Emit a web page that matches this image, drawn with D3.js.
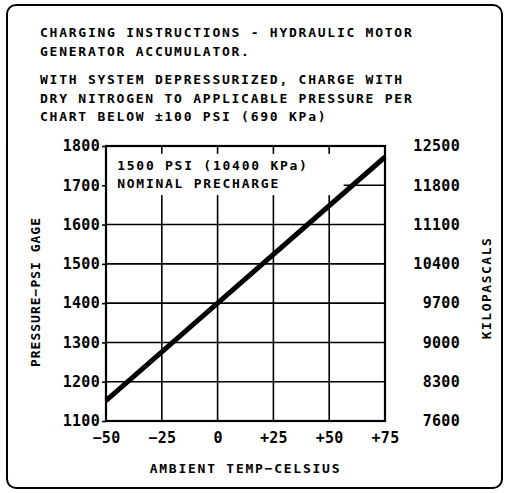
<!DOCTYPE html>
<html>
<head>
<meta charset="utf-8">
<script src="https://cdn.jsdelivr.net/npm/d3@7"></script>
<style>
    body { margin: 0; background: #fff; }
    svg text { font-family: "DejaVu Sans Mono", monospace; font-weight: bold; fill: #000; }
</style>
</head>
<body>
<div id="chart"></div>
<script>
const titleLines = [
    "CHARGING INSTRUCTIONS - HYDRAULIC MOTOR",
    "GENERATOR ACCUMULATOR.",
    "WITH SYSTEM DEPRESSURIZED, CHARGE WITH",
    "DRY NITROGEN TO APPLICABLE PRESSURE PER",
    "CHART BELOW ±100 PSI (690 KPa)"
];
const noteLines = ["1500 PSI (10400 KPa)", "NOMINAL PRECHARGE"];
const tempTicks = [-50, -25, 0, 25, 50, 75];
const tempLabels = ["−50", "−25", "0", "+25", "+50", "+75"];
const psiTicks = [1100, 1200, 1300, 1400, 1500, 1600, 1700, 1800];
const kpaTicks = [7600, 8300, 9000, 9700, 10400, 11100, 11800, 12500];
const lineTemp = [-50, 0, 75];
const linePsi = [1152, 1400, 1772];

const W = 507, H = 493;
const margin = { top: 146, right: 122, bottom: 72, left: 106 };

const svg = d3.select("#chart").append("svg")
    .attr("width", W)
    .attr("height", H);

// outer rounded frame
svg.append("rect")
    .attr("x", 7).attr("y", 5)
    .attr("width", 495).attr("height", 483)
    .attr("rx", 9)
    .style("fill", "none")
    .style("stroke", "#000")
    .style("stroke-width", 2);

// title block
const titleY = [37, 56, 84, 103, 121];
svg.selectAll(".title")
    .data(titleLines)
    .enter().append("text")
    .attr("class", "title")
    .attr("x", 40)
    .attr("y", (d, i) => titleY[i])
    .style("font-size", "13px")
    .style("letter-spacing", "1.75px")
    .text(d => d);

const x = d3.scaleLinear().domain([-50, 75]).range([margin.left, W - margin.right]);
const y = d3.scaleLinear().domain([1100, 1800]).range([H - margin.bottom, margin.top]);
const yKpa = d3.scaleLinear().domain([7600, 12500]).range(y.range());

// grid
svg.append("g")
    .selectAll("line")
    .data(tempTicks.slice(1, -1))
    .enter().append("line")
    .attr("x1", d => x(d)).attr("x2", d => x(d))
    .attr("y1", y(1800)).attr("y2", y(1100))
    .style("stroke", "#000")
    .style("stroke-width", 1.6);

svg.append("g")
    .selectAll("line")
    .data(psiTicks.slice(1, -1))
    .enter().append("line")
    .attr("x1", x(-50)).attr("x2", x(75))
    .attr("y1", d => y(d)).attr("y2", d => y(d))
    .style("stroke", "#000")
    .style("stroke-width", 1.6);

// white box behind the note
svg.append("rect")
    .attr("x", x(-50) + 1)
    .attr("y", y(1780))
    .attr("width", x(56) - x(-50))
    .attr("height", y(1675) - y(1780))
    .style("fill", "#fff");

svg.selectAll(".note")
    .data(noteLines)
    .enter().append("text")
    .attr("class", "note")
    .attr("x", x(-45))
    .attr("y", (d, i) => y(1738) + i * 18)
    .style("font-size", "13px")
    .style("letter-spacing", "1.75px")
    .text(d => d);

// plot frame
svg.append("rect")
    .attr("x", x(-50)).attr("y", y(1800))
    .attr("width", x(75) - x(-50))
    .attr("height", y(1100) - y(1800))
    .style("fill", "none")
    .style("stroke", "#000")
    .style("stroke-width", 2.2);

// pressure line
const line = d3.line()
    .x((d, i) => x(lineTemp[i]))
    .y(d => y(d));

svg.append("path")
    .datum(linePsi)
    .attr("d", line)
    .style("fill", "none")
    .style("stroke", "#000")
    .style("stroke-width", 5);

// axes
const tickFont = g => g.selectAll("text")
    .style("font-size", "15px")
    .style("letter-spacing", "0.3px");

const xAxis = svg.append("g")
    .attr("transform", `translate(0,${y(1100)})`)
    .call(d3.axisBottom(x).tickValues(tempTicks)
        .tickFormat((d, i) => tempLabels[i]).tickSize(0).tickPadding(11));
xAxis.call(tickFont);

const yAxis = svg.append("g")
    .attr("transform", `translate(${x(-50)},0)`)
    .call(d3.axisLeft(y).tickValues(psiTicks).tickFormat(d3.format("d"))
        .tickSize(4).tickPadding(2));
yAxis.call(tickFont);

const yAxisR = svg.append("g")
    .attr("transform", `translate(${x(75)},0)`)
    .call(d3.axisRight(yKpa).tickValues(kpaTicks).tickFormat(d3.format("d"))
        .tickSize(0).tickPadding(75));
yAxisR.call(tickFont);
yAxisR.selectAll("text").attr("text-anchor", "end");

svg.selectAll(".domain").remove();
svg.selectAll(".tick line").style("stroke", "#000").style("stroke-width", 1.6);

// axis titles
svg.append("text")
    .attr("x", (x(-50) + x(75)) / 2)
    .attr("y", 473)
    .attr("text-anchor", "middle")
    .style("font-size", "13px")
    .style("letter-spacing", "1.75px")
    .text("AMBIENT TEMP−CELSIUS");

svg.append("text")
    .attr("transform", "translate(40,292) rotate(-90)")
    .attr("text-anchor", "middle")
    .style("font-size", "13px")
    .style("letter-spacing", "1px")
    .text("PRESSURE−PSI GAGE");

svg.append("text")
    .attr("transform", "translate(491,288) rotate(-90)")
    .attr("text-anchor", "middle")
    .style("font-size", "13px")
    .style("letter-spacing", "1.5px")
    .text("KILOPASCALS");
</script>
</body>
</html>
